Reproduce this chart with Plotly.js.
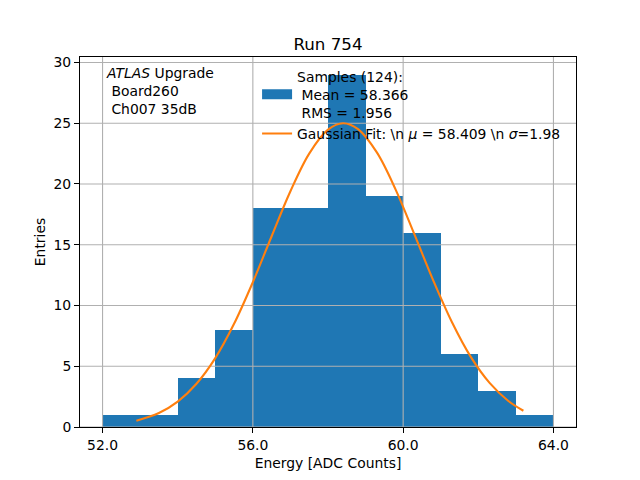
<!DOCTYPE html>
<html>
<head>
<meta charset="utf-8">
<script src="https://cdn.plot.ly/plotly-3.0.1.min.js"></script>
<style>html,body{margin:0;padding:0;background:#fff;}#chart{width:640px;height:480px;}</style>
</head>
<body>
<div id="chart"></div>
<script>
// Histogram bins (left edges) and counts
const binEdges = [52, 53, 54, 55, 56, 57, 58, 59, 60, 61, 62, 63, 64];
const counts   = [1, 1, 4, 8, 18, 18, 29, 19, 16, 6, 3, 1];

// Gaussian fit curve
const fitX = [52.9, 53.5, 54.0, 54.5, 55.0, 55.5, 56.0, 56.5, 57.0, 57.5, 58.0, 58.4,
              58.8, 59.3, 59.8, 60.3, 60.8, 61.3, 61.8, 62.3, 62.8, 63.2];
const fitY = [0.52, 1.15, 2.09, 3.56, 5.67, 8.49, 11.92, 15.70, 19.40, 22.50, 24.47, 25.0,
              24.52, 22.6, 19.54, 15.85, 12.07, 8.62, 5.77, 3.63, 2.14, 1.34];

const xTicks = [52, 56, 60, 64];
const xTickText = ["52.0", "56.0", "60.0", "64.0"];
const yTicks = [0, 5, 10, 15, 20, 25, 30];

const xRange = [51.4, 64.6];
const yRange = [0, 30.45];

const barX = counts.map((c, i) => binEdges[i]);
const barW = counts.map((c, i) => binEdges[i + 1] - binEdges[i]);

// grid lines drawn over the bars (like matplotlib)
const gx = [], gy = [];
xTicks.forEach(t => { gx.push(t, t, null); gy.push(yRange[0], yRange[1], null); });
yTicks.forEach(t => { gx.push(xRange[0], xRange[1], null); gy.push(t, t, null); });

const font = "DejaVu Sans, sans-serif";

const traces = [
  {
    type: "bar",
    x: barX,
    y: counts,
    width: barW,
    offset: 0,
    marker: {color: "#1f77b4", line: {width: 0}},
    showlegend: false,
    hoverinfo: "skip"
  },
  {
    type: "scatter",
    mode: "lines",
    x: gx, y: gy,
    line: {color: "#b0b0b0", width: 1.1},
    showlegend: false,
    hoverinfo: "skip",
    connectgaps: false
  },
  {
    // legend entry for the histogram (wide patch like matplotlib)
    type: "scatter",
    mode: "lines",
    x: [null], y: [null],
    line: {color: "#1f77b4", width: 10},
    name: "Samples (124):<br>\u00a0Mean = 58.366<br>\u00a0RMS = 1.956",
    hoverinfo: "skip"
  },
  {
    type: "scatter",
    mode: "lines",
    x: fitX,
    y: fitY,
    line: {color: "#ff7f0e", width: 2.1, shape: "spline"},
    name: "Gaussian Fit: \\n <i>\u03bc</i> = 58.409 \\n <i>\u03c3</i>=1.98",
    hoverinfo: "skip"
  }
];

const layout = {
  width: 640, height: 480,
  margin: {l: 80, r: 64, t: 57, b: 53, pad: 0},
  paper_bgcolor: "#fff",
  plot_bgcolor: "#fff",
  font: {family: font, size: 13.9, color: "#000"},
  title: {text: "Run 754", font: {family: font, size: 16.7, color: "#000"},
          x: 0.5, xref: "paper", y: 0.908, yref: "container", yanchor: "middle"},
  bargap: 0,
  showlegend: true,
  legend: {
    x: 0.357, y: 0.99, xanchor: "left", yanchor: "top",
    bgcolor: "rgba(255,255,255,0)",
    font: {family: font, size: 13.9, color: "#000"},
    traceorder: "normal",
    itemwidth: 30,
    tracegroupgap: 0
  },
  xaxis: {
    range: xRange,
    tickvals: xTicks, ticktext: xTickText,
    ticks: "outside", ticklen: 5, tickwidth: 1, tickcolor: "#000",
    showline: true, mirror: true, linecolor: "#000", linewidth: 1,
    showgrid: false, zeroline: false,
    title: {text: "Energy [ADC Counts]", font: {family: font, size: 13.9, color: "#000"}, standoff: 6},
    tickfont: {family: font, size: 13.9, color: "#000"}
  },
  yaxis: {
    range: yRange,
    tickvals: yTicks,
    ticks: "outside", ticklen: 5, tickwidth: 1, tickcolor: "#000",
    showline: true, mirror: true, linecolor: "#000", linewidth: 1,
    showgrid: false, zeroline: false,
    title: {text: "Entries", font: {family: font, size: 13.9, color: "#000"}, standoff: 4},
    tickfont: {family: font, size: 13.9, color: "#000"}
  },
  annotations: [
    {
      xref: "paper", yref: "paper",
      x: 0.048, y: 0.985, xanchor: "left", yanchor: "top",
      align: "left",
      showarrow: false,
      text: "<i>ATLAS</i> Upgrade<br>\u00a0Board260<br>\u00a0Ch007 35dB",
      font: {family: font, size: 13.9, color: "#000"}
    }
  ]
};

Plotly.newPlot("chart", traces, layout, {staticPlot: true, displayModeBar: false});
</script>
</body>
</html>
